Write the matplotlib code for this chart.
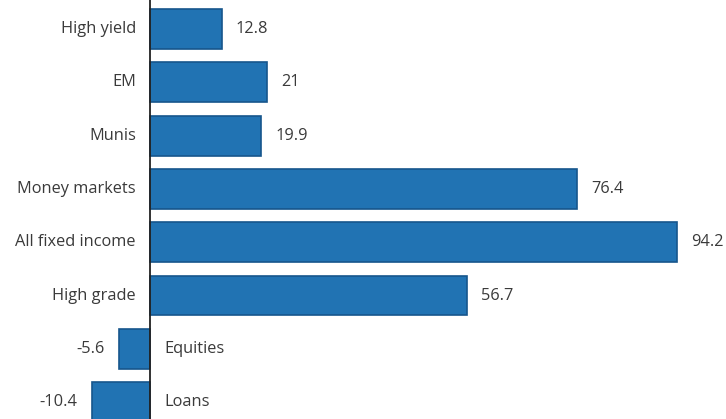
import matplotlib
matplotlib.use('Agg')
import matplotlib.pyplot as plt

categories = ['High yield', 'EM', 'Munis', 'Money markets', 'All fixed income',
              'High grade', 'Equities', 'Loans']
values = [12.8, 21, 19.9, 76.4, 94.2, 56.7, -5.6, -10.4]
value_labels = ['12.8', '21', '19.9', '76.4', '94.2', '56.7', '-5.6', '-10.4']

plt.rcParams['font.family'] = ['Open Sans', 'DejaVu Sans']
txt_color = '#3a3a3a'
fs = 11.8

fig = plt.figure(figsize=(7.26, 4.19), dpi=100)
ax = fig.add_axes([0, 0, 1, 1])

ypos = list(range(len(categories)))
ax.barh(ypos, values, height=0.75, color='#2173b3', edgecolor='#17568c', linewidth=1.2)
ax.axvline(0, color='#222222', lw=1.3)

for y, v, lab, cat in zip(ypos, values, value_labels, categories):
    if v >= 0:
        ax.text(v + 2.5, y, lab, ha='left', va='center', fontsize=fs, color=txt_color)
        ax.text(-2.5, y, cat, ha='right', va='center', fontsize=fs, color=txt_color)
    else:
        ax.text(v - 2.5, y, lab, ha='right', va='center', fontsize=fs, color=txt_color)
        ax.text(2.5, y, cat, ha='left', va='center', fontsize=fs, color=txt_color)

ax.set_xlim(-26.81, 102.97)
ax.set_ylim(7.317, -0.544)
ax.axis('off')

fig.savefig('out.png', dpi=100)
